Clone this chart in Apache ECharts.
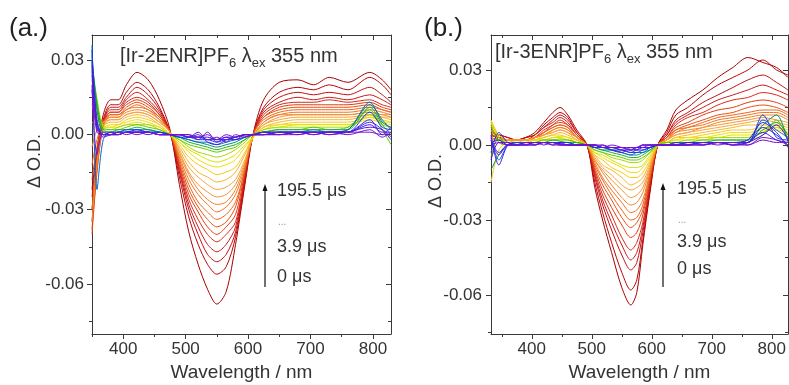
<!DOCTYPE html>
<html><head><meta charset="utf-8">
<script src="https://cdn.jsdelivr.net/npm/echarts@6/dist/echarts.min.js"></script>
<style>html,body{margin:0;padding:0;background:#fff}#c{width:789px;height:385px}</style>
</head><body><div id="c"></div>
<script>
const FONT = "'Liberation Sans', Arial, Helvetica, sans-serif";
// Values are in mOD (ΔO.D. × 1000); axis labels show ΔO.D.
// ---------- Panel (a) [Ir-2ENR]PF6 ----------
const WL_A = [350,358,368,380,392,405,422,440,458,475,490,505,520,535,550,565,580,595,608,625,650,680,705,730,760,795,815,829];
const A00 = [-22,-6,8,14,14,20,25,22,14,2, -20,-39,-52,-62,-68,-63,-44,-20,0,14, 21,22,20,23,21,25,22,18];
const A01 = [-30,-10,6,12,12,17,21,18,11,1, -17,-33,-44,-52,-56,-53,-41,-19,0,11, 17,19,18,20,18,23,20,16];
const A02 = [-35,-12,5,11,11,15,19,16,10,1, -15,-30,-40,-48,-51,-48,-39,-18,0,10, 15,17,16,17,16,19,16,13];
const A03 = [-25,-8,5,10,10,14,17,14,9,1, -14,-28,-37,-44,-47,-44,-37,-17,0,9, 13,15,14,15,14,16,14,12];
const A04 = [-38,-14,4,9,9,13,15,13,8,1, -13,-26,-34,-40,-43,-40,-35,-16,0,8, 12,13,13,14,13,14,12,11];
const A05 = [-18,-5,5,9,9,12,14,12,8,1, -12,-24,-31,-37,-40,-37,-32,-15,0,7, 11,12,12,12,12,13,11,10];
const A06 = [-40,-15,3,8,8,11,13,11,7,1, -11,-22,-29,-34,-37,-35,-29,-14,0,7, 10,11,11,11,11,12,10,9];
const A07 = [-12,-2,5,8,8,10,12,10,7,1, -10,-20,-27,-31,-34,-32,-27,-14,0,6, 9,10,10,10,10,11,10,9];
const A08 = [-30,-10,4,7,7,10,11,10,6,1, -9,-18,-24,-28,-31,-29,-24,-13,-1,5, 8,9,9,9,9,10,9,8];
const A09 = [-5,2,5,7,7,9,10,9,6,1, -8,-16,-22,-26,-28,-27,-22,-12,-1,5, 8,8,8,8,8,9,8,8];
const A10 = [-35,-12,3,6,6,8,9,8,5,1, -7,-15,-20,-23,-25,-24,-20,-11,-1,4, 7,8,8,8,8,9,8,7];
const A11 = [5,4,5,6,6,8,9,8,5,1, -6,-13,-17,-20,-22,-21,-18,-10,-1,4, 6,7,7,7,7,8,7,7];
const A12 = [12,6,4,5,5,7,8,7,4,0, -5,-11,-15,-17,-19,-18,-15,-8,-1,3, 5,6,6,6,6,8,7,6];
const A13 = [18,8,3,4,4,6,7,6,4,0, -4,-9,-12,-14,-16,-15,-13,-7,-1,3, 4,5,5,5,5,7,6,5];
const A14 = [22,10,3,3,4,5,6,5,3,0, -3,-7,-10,-12,-13,-12,-10,-5,-1,2, 4,4,4,4,4,6,5,5];
const A15 = [25,12,3,3,3,4,5,4,3,0, -3,-6,-8,-10,-11,-10,-8,-4,-1,2, 3,4,4,4,4,7,5,4];
const A16 = [27,14,3,2,3,4,4,4,2,0, -2,-5,-7,-8,-9,-8,-6,-3,0,2, 3,3,3,3,3,8,4,3];
const A17 = [29,14,2,2,2,3,4,3,2,0, -2,-4,-5,-6,-7,-6,-5,-2,0,1, 2,2,3,2,3,10,2,-4];
const A18 = [30,12,2,1,2,2,3,2,1,0, -1,-3,-4,-5,-6,-5,-4,-2,0,1, 2,2,2,2,2,11,4,0];
const A19 = [32,10,1,1,1,2,2,2,1,0, -1,-2,-3,-4,-5,-4,-3,-1,0,1, 1,1,2,1,2,12,6,2];
const A20 = [36,-22,-2,1,1,2,2,1,1,0, -1,-2,-3,-3,-4,-3,-2,-1,0,1, 1,1,1,1,2,13,5,3];
const A21 = [34,6,0,0,1,1,2,1,1,0, -1,-1,-2,-2,-3,-2,-2,-1,0,1, 1,1,1,1,1,9,3,2];
const A22 = [30,4,0,0,0,1,1,1,0,0, 0,-1,-1,-2,-2,-2,-1,0,0,0, 1,1,1,1,1,5,2,-2];
const A23 = [28,3,0,0,0,1,1,1,0,0, 0,-1,-1,-1,-2,-1,-1,0,0,0, 0,1,0,1,1,4,1,1];
const A24 = [26,5,-1,0,1,1,1,0,1,0, 0,-1,1,-3,-4,-2,-1,0,0,0, 1,0,1,1,1,6,0,3];
const A25 = [24,2,0,1,0,1,1,1,0,0, 0,0,-2,1,-3,-1,-2,0,0,1, 0,1,1,0,1,3,2,-1];
const A26 = [20,-8,1,0,1,0,1,1,0,0, 0,-1,0,-2,-1,-3,0,-1,0,0, 1,1,0,1,0,2,-1,1];
const A27 = [18,1,0,0,0,1,0,1,0,0, 0,0,-1,0,-2,0,-1,0,0,0, 0,0,1,0,1,1,0,0];
const CURVES_A = [A00,A01,A02,A03,A04,A05,A06,A07,A08,A09,A10,A11,A12,A13,A14,A15,A16,A17,A18,A19,A20,A21,A22,A23,A24,A25,A26,A27];

// ---------- Panel (b) [Ir-3ENR]PF6 ----------
const WL_B = [332,345,360,375,390,405,420,435,447,460,475,492,505,518,533,550,565,575,585,597,610,625,640,660,685,710,735,760,785,808,827];
const B00 = [4,3,2,2,3,5,9,13,15,12, 6,0,-17,-30,-43,-57,-64,-59,-40,-19, 0,6,14,18,22,27,31,35,33,31, 27];
const B01 = [5,4,3,2,3,4,8,11,13,11, 5,0,-15,-27,-39,-51,-58,-54,-38,-18, 0,5,12,15,20,24,27,30,34,30, 28];
const B02 = [3,4,3,2,3,4,7,10,12,10, 5,0,-13,-24,-34,-44,-50,-47,-35,-17, 0,4,10,13,17,20,23,26,28,25, 22];
const B03 = [6,3,2,2,2,4,7,9,11,9, 4,0,-12,-22,-31,-40,-46,-43,-33,-16, 0,4,9,12,15,18,20,22,24,22, 20];
const B04 = [2,3,2,2,2,3,6,8,10,8, 4,0,-11,-20,-28,-37,-42,-39,-31,-15, 0,3,8,11,13,16,18,19,21,20, 18];
const B05 = [5,2,2,2,2,3,5,8,9,8, 4,0,-10,-18,-25,-32,-37,-35,-28,-14, 0,3,7,9,12,14,15,17,18,17, 15];
const B06 = [4,3,2,2,2,3,5,7,8,7, 3,0,-9,-16,-22,-29,-33,-31,-26,-13, 0,3,6,8,10,12,13,15,16,15, 13];
const B07 = [7,3,2,2,2,3,5,7,8,7, 3,0,-8,-14,-20,-26,-30,-29,-24,-12, 0,2,6,7,9,11,12,13,14,14, 12];
const B08 = [3,2,2,2,2,3,4,6,7,6, 3,0,-7,-13,-18,-23,-27,-26,-22,-11, 0,2,5,7,8,10,11,12,13,13, 11];
const B09 = [8,4,2,2,2,3,4,6,7,6, 3,0,-6,-11,-16,-21,-24,-23,-19,-10, 0,2,5,6,7,9,10,11,12,12, 10];
const B10 = [2,2,2,2,2,3,4,5,6,5, 3,0,-6,-10,-14,-18,-21,-20,-17,-9, 0,2,4,5,7,8,9,10,11,10, 9];
const B11 = [9,3,2,2,2,2,4,5,6,5, 2,0,-5,-9,-12,-16,-18,-17,-15,-8, 0,2,4,5,6,7,8,9,10,9, 8];
const B12 = [10,4,2,1,2,2,3,4,5,4, 2,0,-4,-8,-10,-13,-16,-15,-13,-7, 0,1,3,4,5,6,7,8,8,8, 7];
const B13 = [-15,-2,1,1,1,2,3,4,4,3, 2,0,-4,-6,-9,-11,-13,-13,-11,-6, 0,1,3,3,4,5,6,6,7,7, 6];
const B14 = [10,3,1,1,1,2,2,3,3.5,3, 1,0,-3,-5,-7,-9,-11,-11,-9,-5, 0,1,2,3,3,4,5,5,6,6, 5];
const B15 = [9,3,1,1,1,2,2,3,3,2, 1,0,-3,-4,-6,-8,-9,-9,-8,-4, 0,1,2,2,3,3,4,4,5,7, 4];
const B16 = [6,2,1,1,1,1,2,2,2.5,2, 1,0,-2,-3,-5,-6,-7,-7,-6,-3, 0,1,1,2,2,3,3,3,5,8, 3];
const B17 = [8,1,0,1,1,1,2,2,2,2, 1,0,-2,-3,-4,-5,-6,-6,-5,-3, 0,1,1,1,2,2,2,2,4,10, 2];
const B18 = [-5,3,0,1,1,1,1,2,1.5,1, 1,0,-1,-2,-3,-4,-5,-5,-4,-2, 0,0,1,1,1,2,2,2,6,9, 4];
const B19 = [-10,-4,0,1,1,1,1,1,1,1, 0,0,-1,-2,-2,-3,-4,-4,-3,-2, 0,0,1,1,1,1,1,2,8,12, 1];
const B20 = [3,-6,0,1,1,1,1,1,1,1, 0,0,-1,-1,-2,-3,-4,-3,-3,-1, 0,0,0,1,1,1,1,1,10,6, 3];
const B21 = [-3,5,1,0,1,1,1,1,1,1, 0,0,-1,-1,-2,-2,-3,-3,-2,-1, 0,0,0,1,1,1,1,1,12,3, 2];
const B22 = [2,-3,0,0,0,1,1,1,0.5,0, 0,0,0,-1,-1,-2,-3,-2,-2,-1, 0,0,0,0,1,1,1,1,7,4, 0];
const B23 = [1,2,0,0,0,0,1,1,0.5,0, 0,0,0,-1,-1,-1,-2,-2,-1,-1, 0,0,0,0,0,1,0,1,5,2, 1];
const B24 = [4,-8,0,1,0,1,1,1,0,0, 0,0,-1,0,-2,-3,-1,-2,0,0, 0,0,1,0,1,1,1,2,9,5, -1];
const B25 = [-6,1,1,0,1,0,1,0,1,0, 0,0,0,-1,-1,-2,-2,-1,-1,0, 0,0,0,1,0,1,0,1,4,8, 2];
const B26 = [2,-4,0,0,1,1,0,1,0,0, 0,0,0,-1,0,-1,-2,-1,0,0, 0,0,0,0,1,0,1,0,3,2, 0];
const B27 = [0,1,0,0,0,0,1,0,0,0, 0,0,0,0,-1,-1,-1,-1,0,0, 0,0,0,0,0,1,0,0,2,1, 1];
const CURVES_B = [B00,B01,B02,B03,B04,B05,B06,B07,B08,B09,B10,B11,B12,B13,B14,B15,B16,B17,B18,B19,B20,B21,B22,B23,B24,B25,B26,B27];

// ---------- Axis ticks ----------
const X_MAJOR = [400,500,600,700,800];
const X_MINOR_A = [350,450,550,650,750];
const X_MINOR_B = [350,450,550,650,750];
const Y_MAJOR = [-60,-30,0,30];
const Y_MINOR = [-75,-45,-15,15];

const PALETTE = ['#a80000','#b80404','#c41010','#cc1a1a','#d82a18','#e03c10','#e85010','#ee6418',
  '#f07420','#f28428','#f49430','#f6a438','#f8b428','#f8c818','#f4dc00','#d8e400',
  '#a8d800','#60c800','#20b020','#009070','#0068d0','#1838f0','#2a2af0','#3818e8',
  '#4a20e0','#5e10d8','#6a18d0','#7810c8'];

const AX = '#3a3a3a', TXT = '#333';
const lbl = {fontSize:17, color:TXT, fontFamily:FONT};

function xAxes(gi, min, max, minor) {
  const base = {gridIndex:gi, type:'value', min, max, splitLine:{show:false}};
  const ls = {color:AX, width:1};
  return [
    Object.assign({}, base, {position:'bottom', axisLine:{show:true, onZero:false, lineStyle:ls},
      axisTick:{show:true, inside:false, length:5, customValues:X_MAJOR, lineStyle:ls},
      axisLabel:Object.assign({show:true, margin:7, customValues:X_MAJOR}, lbl),
      name:'Wavelength / nm', nameLocation:'middle', nameGap:26,
      nameTextStyle:{fontSize:19, color:TXT, fontFamily:FONT}}),
    Object.assign({}, base, {position:'bottom', axisLine:{show:false, onZero:false},
      axisTick:{show:true, inside:false, length:3, customValues:minor, lineStyle:ls}, axisLabel:{show:false}}),
    Object.assign({}, base, {position:'top', axisLine:{show:true, onZero:false, lineStyle:ls},
      axisTick:{show:true, inside:true, length:5, customValues:X_MAJOR, lineStyle:ls}, axisLabel:{show:false}}),
    Object.assign({}, base, {position:'top', axisLine:{show:false, onZero:false},
      axisTick:{show:true, inside:true, length:3, customValues:minor, lineStyle:ls}, axisLabel:{show:false}})
  ];
}
function yAxes(gi, min, max, margin) {
  const base = {gridIndex:gi, type:'value', min, max, splitLine:{show:false}};
  const ls = {color:AX, width:1};
  return [
    Object.assign({}, base, {position:'left', axisLine:{show:true, onZero:false, lineStyle:ls},
      axisTick:{show:true, inside:false, length:5, customValues:Y_MAJOR, lineStyle:ls},
      axisLabel:Object.assign({show:true, margin:margin, customValues:Y_MAJOR,
        formatter:v => (v/1000).toFixed(2)}, lbl)}),
    Object.assign({}, base, {position:'left', axisLine:{show:false, onZero:false},
      axisTick:{show:true, inside:false, length:3, customValues:Y_MINOR, lineStyle:ls}, axisLabel:{show:false}}),
    Object.assign({}, base, {position:'right', axisLine:{show:true, onZero:false, lineStyle:ls},
      axisTick:{show:true, inside:true, length:5, customValues:Y_MAJOR, lineStyle:ls}, axisLabel:{show:false}}),
    Object.assign({}, base, {position:'right', axisLine:{show:false, onZero:false},
      axisTick:{show:true, inside:true, length:3, customValues:Y_MINOR, lineStyle:ls}, axisLabel:{show:false}})
  ];
}
function mkSeries(wl, curves, gi) {
  return curves.map((vals, k) => ({
    type:'line', xAxisIndex:gi*4, yAxisIndex:gi*4,
    data: wl.map((w, i) => [w, vals[i]]),
    symbol:'none', showSymbol:false, smooth:0.3, silent:true,
    lineStyle:{width:1, color:PALETTE[k]}, itemStyle:{color:PALETTE[k]}
  }));
}

const sub = {fontSize:13, fontFamily:FONT, color:TXT, verticalAlign:'bottom', lineHeight:10};
function annot(x, yTop, yBot, tx, ys) {
  return [
    {type:'line', shape:{x1:x, y1:yBot, x2:x, y2:yTop+5}, style:{stroke:'#111', lineWidth:1.2}},
    {type:'polygon', shape:{points:[[x, yTop],[x-2.5, yTop+7],[x+2.5, yTop+7]]}, style:{fill:'#111'}},
    {type:'text', x:tx, y:ys[0], style:{text:'195.5 μs', font:`18px ${FONT}`, fill:TXT, textVerticalAlign:'middle'}},
    {type:'text', x:tx+1, y:ys[1], style:{text:'...', font:`10px ${FONT}`, fill:'#999', textVerticalAlign:'middle'}},
    {type:'text', x:tx, y:ys[2], style:{text:'3.9 μs', font:`18px ${FONT}`, fill:TXT, textVerticalAlign:'middle'}},
    {type:'text', x:tx, y:ys[3], style:{text:'0 μs', font:`18px ${FONT}`, fill:TXT, textVerticalAlign:'middle'}}
  ];
}

const option = {
  animation:false,
  backgroundColor:'#fff',
  grid:[
    {left:92, top:35, width:299, height:299, containLabel:false, outerBoundsMode:'none'},
    {left:491, top:35, width:297, height:299, containLabel:false, outerBoundsMode:'none'}
  ],
  xAxis: xAxes(0, 350, 829, X_MINOR_A).concat(xAxes(1, 332, 827, X_MINOR_B)),
  yAxis: yAxes(0, -80, 40, 8).concat(yAxes(1, -75.6, 44, 9)),
  series: mkSeries(WL_A, CURVES_A, 0).concat(mkSeries(WL_B, CURVES_B, 1)),
  graphic: [
    {type:'text', x:9, y:29, style:{text:'(a.)', font:`26px ${FONT}`, fill:'#222', textVerticalAlign:'middle'}},
    {type:'text', x:424, y:29, style:{text:'(b.)', font:`26px ${FONT}`, fill:'#222', textVerticalAlign:'middle'}},
    {type:'text', left:120, top:42, z:10, style:{text:'[Ir-2ENR]PF{s|6} λ{s|ex} 355 nm', font:`20px ${FONT}`, fill:TXT, lineHeight:28, rich:{s:sub}}},
    {type:'text', left:495, top:38, z:10, style:{text:'[Ir-3ENR]PF{s|6} λ{s|ex} 355 nm', font:`20px ${FONT}`, fill:TXT, lineHeight:28, rich:{s:sub}}},
    {type:'text', x:35, y:161, rotation:Math.PI/2, style:{text:'Δ O.D.', font:`18px ${FONT}`, fill:TXT, textAlign:'center', textVerticalAlign:'middle'}},
    {type:'text', x:436, y:181, rotation:Math.PI/2, style:{text:'Δ O.D.', font:`18px ${FONT}`, fill:TXT, textAlign:'center', textVerticalAlign:'middle'}}
  ].concat(annot(265, 184, 287, 277, [191, 222, 247, 277]))
   .concat(annot(663, 183, 287, 677, [189, 220, 242, 269]))
};
const chart = echarts.init(document.getElementById('c'), null, {renderer:'canvas'});
chart.setOption(option);
</script>
</body></html>
